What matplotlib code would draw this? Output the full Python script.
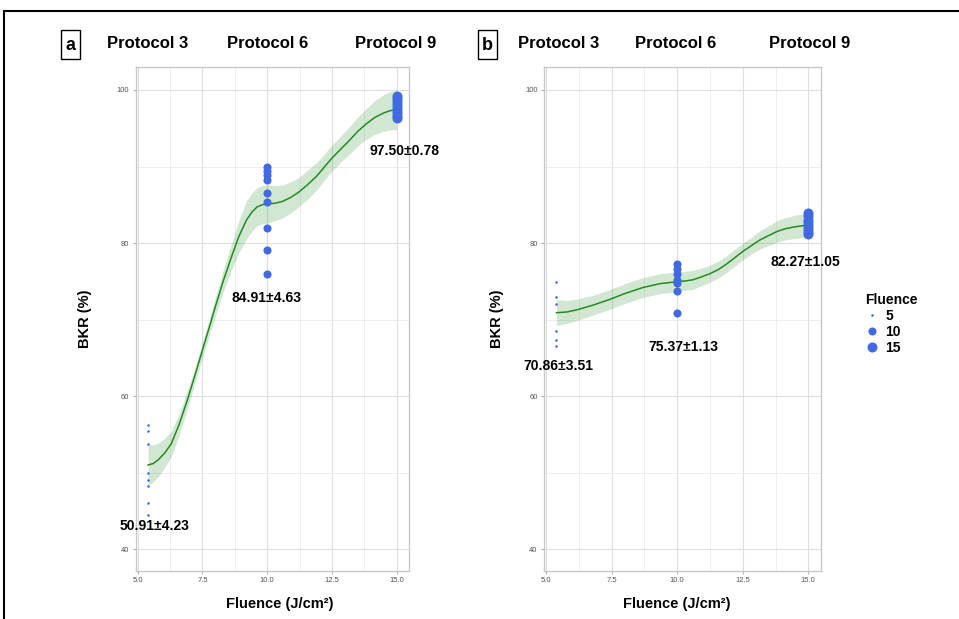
import matplotlib
matplotlib.use("Agg")
import matplotlib.pyplot as plt
from matplotlib.lines import Line2D
from matplotlib.patches import Rectangle

plt.rcParams['font.family'] = ['Liberation Sans', 'DejaVu Sans']

# ---------------- data ----------------
fluence_levels = [5.4, 10.0, 15.0]
legend_labels = ["5", "10", "15"]

# Panel a: BKR (%) per fluence group
a_bkr_5 = [56.2, 55.4, 53.8, 49.9, 49.0, 48.3, 46.05, 44.5]
a_bkr_10 = [89.97, 89.4, 88.9, 88.2, 86.5, 85.4, 82.0, 79.1, 75.95]
a_bkr_15 = [99.2, 98.9, 98.5, 98.2, 97.8, 97.4, 97.0, 96.6, 96.3]

# Panel b
b_bkr_5 = [74.86, 72.9, 72.07, 68.46, 67.32, 66.58]
b_bkr_10 = [77.2, 76.6, 75.9, 75.16, 74.8, 73.7, 70.9]
b_bkr_15 = [83.9, 83.5, 83.0, 82.6, 82.2, 81.8, 81.5, 81.2]

# smooth fits
a_fit_x = [5.4, 5.6, 5.8, 6.05, 6.3, 6.6, 6.9, 7.2, 7.5, 7.8, 8.0, 8.3, 8.6, 8.9, 9.2, 9.4, 9.6, 9.8, 10.0,
           10.3, 10.6, 10.9, 11.2, 11.55, 11.9, 12.2, 12.5, 12.85, 13.2, 13.5, 13.8, 14.15, 14.5, 14.75, 15.0]
a_fit_y = [51.0, 51.2, 51.7, 52.6, 53.8, 56.3, 59.3, 62.6, 66.0, 69.4, 71.7, 75.0, 78.0, 80.8, 83.0, 84.0, 84.7, 85.0, 85.1,
           85.2, 85.45, 85.95, 86.6, 87.6, 88.7, 89.9, 91.1, 92.3, 93.5, 94.6, 95.5, 96.4, 97.0, 97.3, 97.4]
a_fit_lo = [48.3, 48.8, 49.5, 50.7, 52.1, 54.9, 58.1, 61.6, 65.0, 68.3, 70.5, 73.6, 76.3, 78.7, 80.5, 81.5, 82.2, 82.5, 82.6,
            82.9, 83.3, 83.9, 84.7, 85.7, 86.9, 88.2, 89.4, 90.6, 91.7, 92.7, 93.5, 94.2, 94.6, 94.8, 94.8]
a_fit_hi = [53.8, 53.6, 53.9, 54.5, 55.5, 57.7, 60.5, 63.6, 67.0, 70.5, 72.9, 76.4, 79.7, 82.9, 85.5, 86.5, 87.2, 87.5, 87.6,
            87.5, 87.6, 88.0, 88.5, 89.5, 90.5, 91.6, 92.8, 94.0, 95.3, 96.5, 97.5, 98.6, 99.4, 99.8, 100.0]

b_fit_x = [5.4, 5.8, 6.2, 6.8, 7.4, 8.0, 8.7, 9.35, 10.0, 10.3, 10.6, 10.9, 11.25, 11.6, 11.9, 12.2, 12.5,
           12.85, 13.15, 13.5, 13.8, 14.1, 14.45, 14.75, 15.0]
b_fit_y = [70.9, 71.0, 71.3, 71.9, 72.6, 73.4, 74.2, 74.7, 74.95, 75.05, 75.2, 75.55, 76.0, 76.6, 77.3, 78.1, 78.9,
           79.7, 80.4, 81.0, 81.5, 81.85, 82.1, 82.25, 82.35]
b_fit_lo = [69.2, 69.5, 69.9, 70.6, 71.3, 72.1, 72.9, 73.4, 73.65, 73.8, 73.95, 74.4, 74.9, 75.5, 76.2, 77.0, 77.8,
            78.6, 79.2, 79.7, 80.1, 80.4, 80.6, 80.7, 80.75]
b_fit_hi = [72.6, 72.5, 72.7, 73.2, 73.9, 74.7, 75.5, 76.0, 76.25, 76.3, 76.45, 76.7, 77.1, 77.7, 78.4, 79.2, 80.0,
            80.8, 81.6, 82.3, 82.9, 83.3, 83.6, 83.8, 83.95]

a_labels = ["50.91\u00b14.23", "84.91\u00b14.63", "97.50\u00b10.78"]
a_label_pos = [(5.64, 43.0), (9.98, 72.8), (15.32, 92.07)]
b_labels = ["70.86\u00b13.51", "75.37\u00b11.13", "82.27\u00b11.05"]
b_label_pos = [(5.47, 64.0), (10.23, 66.45), (14.87, 77.5)]

protocols = ["Protocol 3", "Protocol 6", "Protocol 9"]

# ---------------- style ----------------
point_color = "#4169E1"
fit_color = "#228B22"
sizes = [3.5, 34, 52]  # scatter area for fluence 5, 10, 15

W, H = 959, 619
fig = plt.figure(figsize=(W / 100, H / 100), dpi=100)

def fx(px):
    return px / W

def fy(py):
    return 1 - py / H

AX_TOP, AX_BOT = 67, 570.7
ax_a = fig.add_axes([fx(135.6), fy(AX_BOT), fx(409.1 - 135.6), (AX_BOT - AX_TOP) / H])
ax_b = fig.add_axes([fx(543.9), fy(AX_BOT), fx(820.9 - 543.9), (AX_BOT - AX_TOP) / H])

def style_axes(ax, ylab_px, xlab_center_px, ax_left, ax_right):
    ax.set_xlim(4.92, 15.48)
    ax.set_ylim(37.2, 103.0)
    ax.set_xticks([5.0, 7.5, 10.0, 12.5, 15.0])
    ax.set_xticklabels(["5.0", "7.5", "10.0", "12.5", "15.0"])
    ax.set_yticks([40, 60, 80, 100])
    ax.set_xticks([6.25, 8.75, 11.25, 13.75], minor=True)
    ax.set_yticks([50, 70, 90], minor=True)
    ax.grid(True, which='major', color='#DEDEDE', linewidth=0.8)
    ax.grid(True, which='minor', color='#EBEBEB', linewidth=0.6)
    ax.set_axisbelow(True)
    for s in ax.spines.values():
        s.set_color('#C8C8C8')
        s.set_linewidth(1.0)
    ax.tick_params(which='major', length=2.5, color='#B3B3B3', labelsize=5.5,
                   labelcolor='#555555', pad=2)
    ax.tick_params(which='minor', length=0)
    ax.set_ylabel("BKR (%)", fontsize=10.5, fontweight='bold')
    ax.set_xlabel("Fluence (J/cm\u00b2)", fontsize=10.5, fontweight='bold')
    wpx = ax_right - ax_left
    ax.yaxis.set_label_coords((ylab_px - ax_left) / wpx, 0.5)
    ax.xaxis.set_label_coords((xlab_center_px - ax_left) / wpx, (AX_BOT - 604) / (AX_BOT - AX_TOP))
    ax.xaxis.label.set_va('center')
    ax.yaxis.label.set_va('center')

def draw_panel(ax, groups, fx_, fy_, flo, fhi, labels, label_pos):
    ax.fill_between(fx_, flo, fhi, color=fit_color, alpha=0.2, linewidth=0)
    ax.plot(fx_, fy_, color=fit_color, linewidth=1.1)
    for xv, vals, s in zip(fluence_levels, groups, sizes):
        ax.scatter([xv] * len(vals), vals, s=s, color=point_color, linewidths=0, zorder=3)
    for t, (x, y) in zip(labels, label_pos):
        ax.text(x, y, t, fontsize=10, fontweight='bold', ha='center', va='center', clip_on=False)

draw_panel(ax_a, [a_bkr_5, a_bkr_10, a_bkr_15], a_fit_x, a_fit_y, a_fit_lo, a_fit_hi, a_labels, a_label_pos)
draw_panel(ax_b, [b_bkr_5, b_bkr_10, b_bkr_15], b_fit_x, b_fit_y, b_fit_lo, b_fit_hi, b_labels, b_label_pos)
style_axes(ax_a, 85, 280, 135.6, 409.1)
style_axes(ax_b, 497, 677, 543.9, 820.9)

# protocol titles
a_prot_px = [148, 268, 396]
b_prot_px = [559, 676, 810]
for t, px in zip(protocols, a_prot_px):
    fig.text(fx(px), fy(43), t, fontsize=12, fontweight='bold', ha='center', va='center')
for t, px in zip(protocols, b_prot_px):
    fig.text(fx(px), fy(44), t, fontsize=12, fontweight='bold', ha='center', va='center')

# panel letters in boxes
for letter, (x0, x1) in zip(["a", "b"], [(61, 80), (478, 497)]):
    fig.patches.append(Rectangle((fx(x0), fy(59)), fx(x1 - x0), (59 - 30) / H,
                                 transform=fig.transFigure, fill=False,
                                 edgecolor='black', linewidth=1.0))
    fig.text(fx((x0 + x1) / 2), fy(45), letter, fontsize=13, fontweight='bold',
             ha='center', va='center')

# outer frame (left and top edges)
fig.add_artist(Line2D([fx(4), fx(4)], [fy(11), 0], transform=fig.transFigure,
                      color='black', linewidth=1.5))
fig.add_artist(Line2D([fx(4), 1], [fy(11), fy(11)], transform=fig.transFigure,
                      color='black', linewidth=1.5))

# legend
msizes = [1.9, 5.8, 7.2]
handles = [Line2D([], [], marker='o', linestyle='none', color=point_color,
                  markersize=m, markeredgewidth=0) for m in msizes]
leg = fig.legend(handles, legend_labels, title="Fluence", loc='upper left',
                 bbox_to_anchor=(fx(855), fy(283)), frameon=False,
                 prop={'weight': 'bold', 'size': 10}, handlelength=1.0,
                 handletextpad=0.5, labelspacing=0.15, borderpad=0.2)
leg.get_title().set_fontweight('bold')
leg.get_title().set_fontsize(10)
leg._legend_box.align = "left"

fig.savefig("out.png", dpi=100)
